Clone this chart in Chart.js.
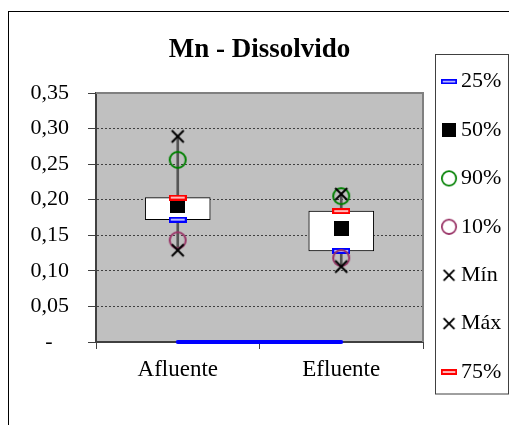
<!DOCTYPE html>
<html>
<head>
<meta charset="utf-8">
<script src="https://cdn.jsdelivr.net/npm/chart.js@4.4.1/dist/chart.umd.min.js"></script>
<style>
  html, body { margin: 0; padding: 0; background: #fff; }
  canvas { display: block; }
</style>
</head>
<body>
<canvas id="chart" width="509" height="425"></canvas>
<script>
// Dissolved manganese at the inflow and outflow points (percentile summary)
const categories = ['Afluente', 'Efluente'];
const minValues = [0.129, 0.106];
const p10Values = [0.143, 0.118];
const p25Values = [0.172, 0.128];
const p50Values = [0.192, 0.159];
const p75Values = [0.203, 0.184];
const p90Values = [0.256, 0.205];
const maxValues = [0.289, 0.208];
const baseValues = [0, 0];
const yTickLabels = ['-', '0,05', '0,10', '0,15', '0,20', '0,25', '0,30', '0,35'];
const titleText = 'Mn - Dissolvido';

const SERIF = "'Liberation Serif', 'Times New Roman', serif";

// small bitmap markers used both on the plot and in the legend
function makeMarker(w, h, paint) {
  const c = document.createElement('canvas');
  c.width = w; c.height = h;
  paint(c.getContext('2d'));
  return c;
}
const dashMarker = (stroke, fill) => makeMarker(18, 6, g => {
  g.fillStyle = fill; g.fillRect(1, 1, 16, 4);
  g.strokeStyle = stroke; g.lineWidth = 2; g.strokeRect(1, 1, 16, 4);
});
const squareMarker = makeMarker(15, 15, g => { g.fillStyle = '#000'; g.fillRect(0, 0, 15, 15); });
const circleMarker = color => makeMarker(20, 20, g => {
  g.strokeStyle = color; g.lineWidth = 2;
  g.beginPath(); g.arc(10, 10, 8, 0, Math.PI * 2); g.stroke();
});
const crossMarker = makeMarker(16, 16, g => {
  g.strokeStyle = '#000'; g.lineWidth = 2;
  g.beginPath(); g.moveTo(2, 2); g.lineTo(14, 14); g.moveTo(14, 2); g.lineTo(2, 14); g.stroke();
});

const markers = {
  p25: dashMarker('#0000ff', '#b8b8ff'),
  p50: squareMarker,
  p90: circleMarker('#008000'),
  p10: circleMarker('#993366'),
  min: crossMarker,
  max: crossMarker,
  p75: dashMarker('#ff0000', '#ffb8b8')
};

function pointSeries(label, data, marker, order) {
  return {
    type: 'line', label, data, order,
    showLine: false,
    pointStyle: marker, pointRadius: 8,
    borderColor: 'transparent', backgroundColor: 'transparent',
    clip: false,
    inLegend: true
  };
}

const datasets = [
  {
    type: 'bar', label: 'whisker',
    data: categories.map((_, i) => [minValues[i], maxValues[i]]),
    backgroundColor: '#555555', borderWidth: 0,
    barThickness: 2, grouped: false, order: 30
  },
  {
    type: 'bar', label: 'box',
    data: categories.map((_, i) => [p25Values[i], p75Values[i]]),
    backgroundColor: '#ffffff', borderColor: '#000000', borderWidth: 1,
    borderSkipped: false, barThickness: 65, grouped: false, order: 29
  },
  {
    type: 'line', label: 'base', data: baseValues, order: 28,
    borderColor: '#0000ff', borderWidth: 4, borderCapStyle: 'round',
    pointRadius: 0, fill: false, clip: false
  },
  pointSeries('25%', p25Values, markers.p25, 7),
  pointSeries('50%', p50Values, markers.p50, 6),
  pointSeries('90%', p90Values, markers.p90, 5),
  pointSeries('10%', p10Values, markers.p10, 4),
  pointSeries('Mín', minValues, markers.min, 2),
  pointSeries('Máx', maxValues, markers.max, 3),
  pointSeries('75%', p75Values, markers.p75, 1)
];

const frame = {
  id: 'frame',
  beforeDraw(chart) {
    const { ctx, chartArea: a } = chart;
    ctx.save();
    ctx.fillStyle = '#ffffff';
    ctx.fillRect(0, 0, chart.width, chart.height);
    ctx.fillStyle = '#c0c0c0';
    ctx.fillRect(a.left, a.top, a.right - a.left, a.bottom - a.top);
    ctx.restore();
  },
  beforeDatasetsDraw(chart) {
    const { ctx, chartArea: a } = chart;
    ctx.save();
    ctx.strokeStyle = '#808080';
    ctx.lineWidth = 2;
    ctx.beginPath();
    ctx.moveTo(a.left, a.top);
    ctx.lineTo(a.right, a.top);
    ctx.lineTo(a.right, a.bottom);
    ctx.stroke();
    ctx.restore();
  },
  afterDraw(chart) {
    const { ctx } = chart;
    ctx.save();
    // outer chart frame
    ctx.strokeStyle = '#000';
    ctx.lineWidth = 1;
    ctx.strokeRect(8.5, 11.5, 600, 600);
    // legend box
    ctx.strokeStyle = '#404040';
    ctx.strokeRect(435.5, 54.5, 73, 339.5);
    const entries = chart.data.datasets.filter(d => d.inLegend);
    ctx.font = '22px ' + SERIF;
    ctx.fillStyle = '#000';
    ctx.textBaseline = 'middle';
    ctx.textAlign = 'left';
    const s = 0.9;
    entries.forEach((d, i) => {
      const cy = 81.6 + i * 48.4;
      const m = d.pointStyle;
      ctx.drawImage(m, 449 - m.width * s / 2, cy - m.height * s / 2, m.width * s, m.height * s);
      ctx.fillText(d.label, 461, cy);
    });
    ctx.restore();
  }
};

new Chart(document.getElementById('chart'), {
  type: 'bar',
  data: { labels: categories, datasets },
  options: {
    responsive: false,
    animation: false,
    events: [],
    layout: { padding: { top: 11, left: 0, right: 86, bottom: 0 } },
    plugins: {
      legend: { display: false },
      tooltip: { enabled: false },
      title: {
        display: true,
        text: titleText,
        fullSize: false,
        color: '#000',
        font: { family: SERIF, size: 27, weight: 'bold' },
        padding: { top: 23, bottom: 26.6 }
      }
    },
    scales: {
      x: {
        offset: true,
        afterFit: s => { s.height = 83; },
        grid: {
          offset: true, drawOnChartArea: false, drawTicks: true,
          tickLength: 7, tickColor: '#404040', tickWidth: 1
        },
        border: { color: '#404040', width: 2 },
        ticks: { color: '#000', font: { family: SERIF, size: 23 }, padding: 7 }
      },
      y: {
        min: 0, max: 0.35,
        afterFit: s => { s.width = 96; },
        afterBuildTicks: s => {
          s.ticks = yTickLabels.map((_, i) => ({ value: +(i * 0.05).toFixed(2) }));
        },
        grid: {
          color: '#404040', lineWidth: 1,
          tickLength: 8, tickColor: '#404040', tickBorderDash: [],
        },
        border: { color: '#404040', width: 2, dash: [2, 2] },
        ticks: {
          color: '#000',
          font: { family: SERIF, size: 22 },
          padding: 19,
          callback: (v, i) => i === 0 ? yTickLabels[0] + '   ' : yTickLabels[i]
        }
      }
    }
  },
  plugins: [frame]
});
</script>
</body>
</html>
